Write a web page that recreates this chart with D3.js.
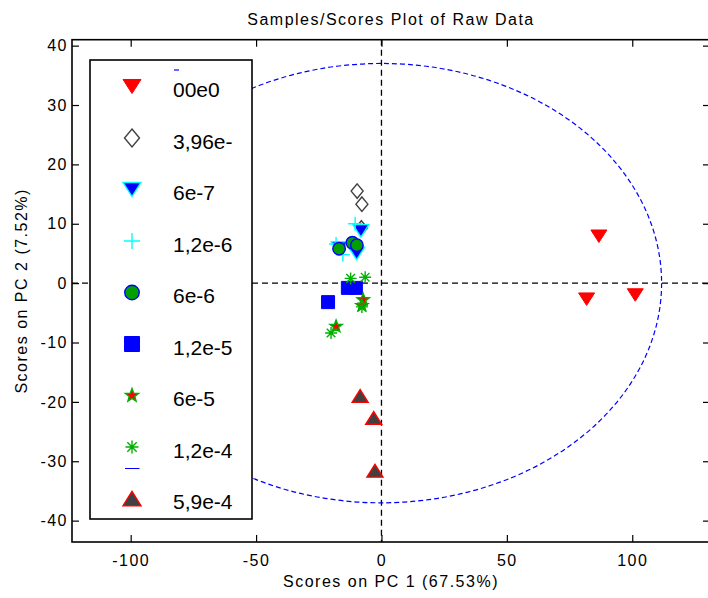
<!DOCTYPE html>
<html>
<head>
<meta charset="utf-8">
<script src="https://cdn.jsdelivr.net/npm/d3@7"></script>
<style>
  html, body { margin: 0; padding: 0; background: #fff; }
  svg { display: block; }
  text { font-family: Arial, "Liberation Sans", Helvetica, sans-serif; fill: #000; }
</style>
</head>
<body>
<svg id="chart" width="708" height="598"></svg>
<script>
// ---- data: PCA scores (PC1, PC2) per sample group ----
const groupLabels = ["00e0", "3,96e-", "6e-7", "1,2e-6", "6e-6", "1,2e-5", "6e-5", "1,2e-4", "5,9e-4"];

const scores_00e0   = [[86.7, 7.9], [81.8, -2.7], [101.2, -2.0]];
const scores_396e   = [[-9.7, 15.5], [-7.8, 13.3], [-8.0, 9.3]];
const scores_6e7    = [[-8.2, 8.8], [-16.8, 5.9], [-9.9, 5.0]];
const scores_12e6   = [[-10.5, 10.0], [-18.1, 6.6], [-15.4, 4.8]];
const scores_6e6    = [[-11.6, 6.8], [-16.9, 5.8], [-9.8, 6.4]];
const scores_12e5   = [[-21.3, -3.2], [-13.4, -0.8], [-10.2, -0.8]];
const scores_6e5    = [[-7.3, -2.8], [-7.8, -3.8], [-18.1, -7.3]];
const scores_12e4   = [[-12.3, 0.8], [-6.5, 1.0], [-20.1, -8.4], [-7.8, -4.0]];
const scores_59e4   = [[-8.5, -19.0], [-3.1, -22.7], [-2.6, -31.6]];

// confidence ellipse (semi-axes in score units, centred on the origin)
const ellipseCenter = [0, 0];
const ellipseRadii = [111.7, 37.0];

const xTicks = [-100, -50, 0, 50, 100];
const yTicks = [40, 30, 20, 10, 0, -10, -20, -30, -40];
const xDomain = [-123.4, 131];
const yDomain = [-43.6, 41];

// ---- layout ----
const svg = d3.select("#chart");
const plot = { left: 72, right: 710, top: 39.7, bottom: 542 };
const x = d3.scaleLinear().domain(xDomain).range([plot.left, plot.right]);
const y = d3.scaleLinear().domain(yDomain).range([plot.bottom, plot.top]);

const axisFont = { size: "16px", spacing: "1.5px" };

// ---- custom marker shapes (size = marker width in px) ----
const triDown = { draw(c, w) { const h = w * 0.78; c.moveTo(-w / 2, -h / 2); c.lineTo(w / 2, -h / 2); c.lineTo(0, h / 2); c.closePath(); } };
const triUp = { draw(c, w) { const h = w * 0.8; c.moveTo(-w / 2, h / 2); c.lineTo(w / 2, h / 2); c.lineTo(0, -h / 2); c.closePath(); } };
const diamond = { draw(c, w) { const h = w * 1.2; c.moveTo(0, -h / 2); c.lineTo(w / 2, 0); c.lineTo(0, h / 2); c.lineTo(-w / 2, 0); c.closePath(); } };
const plus = { draw(c, w) { c.moveTo(-w / 2, 0); c.lineTo(w / 2, 0); c.moveTo(0, -w / 2); c.lineTo(0, w / 2); } };
const circle = { draw(c, w) { c.moveTo(w / 2, 0); c.arc(0, 0, w / 2, 0, 2 * Math.PI); c.closePath(); } };
const square = { draw(c, w) { c.rect(-w / 2, -w / 2, w, w); } };
const star = { draw(c, w) {
  const R = w / 2, r = R * 0.42;
  for (let i = 0; i < 10; i++) {
    const a = -Math.PI / 2 + i * Math.PI / 5, rad = i % 2 ? r : R;
    const px = rad * Math.cos(a), py = rad * Math.sin(a);
    if (i === 0) c.moveTo(px, py); else c.lineTo(px, py);
  }
  c.closePath();
} };
const asterisk = { draw(c, w) {
  const R = w / 2, d = R * 0.72;
  c.moveTo(-R, 0); c.lineTo(R, 0);
  c.moveTo(0, -R); c.lineTo(0, R);
  c.moveTo(-d, -d); c.lineTo(d, d);
  c.moveTo(-d, d); c.lineTo(d, -d);
} };

// marker style per group
const groupStyles = [
  { data: scores_00e0, type: triDown,  size: 16,   legendSize: 18, fill: "#ff0000", stroke: "#ff0000", sw: 1 },
  { data: scores_396e, type: diamond,  size: 12,   legendSize: 15, fill: "none",    stroke: "#404040", sw: 1.4 },
  { data: scores_6e7,  type: triDown,  size: 16,   legendSize: 18, fill: "#0000ff", stroke: "#00ffff", sw: 1.4 },
  { data: scores_12e6, type: plus,     size: 14,   legendSize: 16, fill: "none",    stroke: "#00ffff", sw: 1.4 },
  { data: scores_6e6,  type: circle,   size: 12.5, legendSize: 14.5, fill: "#00a000", stroke: "#0000ff", sw: 1.4 },
  { data: scores_12e5, type: square,   size: 13,   legendSize: 15, fill: "#0000ff", stroke: "#0000ff", sw: 1 },
  { data: scores_6e5,  type: star,     size: 13,   legendSize: 14, fill: "#ff0000", stroke: "#00b000", sw: 1.4 },
  { data: scores_12e4, type: asterisk, size: 12,   legendSize: 13, fill: "none",    stroke: "#00b000", sw: 1.4 },
  { data: scores_59e4, type: triUp,    size: 16,   legendSize: 18, fill: "#404040", stroke: "#ff0000", sw: 1.4 }
];

// ---- reference lines and ellipse ----
const guides = svg.append("g");
guides.append("line")
  .attr("x1", x(0)).attr("x2", x(0)).attr("y1", plot.top).attr("y2", plot.bottom)
  .attr("stroke", "#000").attr("stroke-width", 1.3).attr("stroke-dasharray", "6,4");
guides.append("line")
  .attr("x1", plot.left).attr("x2", plot.right).attr("y1", y(0)).attr("y2", y(0))
  .attr("stroke", "#000").attr("stroke-width", 1.3).attr("stroke-dasharray", "6,4");
guides.append("ellipse")
  .attr("cx", x(ellipseCenter[0])).attr("cy", y(ellipseCenter[1]))
  .attr("rx", x(ellipseRadii[0]) - x(0)).attr("ry", y(0) - y(ellipseRadii[1]))
  .attr("fill", "none").attr("stroke", "#0000ff").attr("stroke-width", 1.2)
  .attr("stroke-dasharray", "5,3");

// ---- data points ----
const pts = svg.append("g");
groupStyles.forEach(g => {
  const sym = d3.symbol().type(g.type).size(g.size);
  pts.append("g").selectAll("path").data(g.data).join("path")
    .attr("d", sym)
    .attr("transform", d => `translate(${x(d[0])},${y(d[1])})`)
    .attr("fill", g.fill).attr("stroke", g.stroke).attr("stroke-width", g.sw);
});

// ---- axes (ticks inside on all four sides) ----
const tick = 7;
const styleAxis = sel => {
  sel.select(".domain").remove();
  sel.selectAll("line").attr("stroke", "#000").attr("stroke-width", 1.2);
  sel.selectAll("text").attr("font-size", axisFont.size).style("letter-spacing", axisFont.spacing)
    .attr("fill", "#000").attr("font-family", "Arial, 'Liberation Sans', sans-serif");
};
svg.append("g").attr("transform", `translate(0,${plot.bottom})`)
  .call(d3.axisBottom(x).tickValues(xTicks).tickSizeInner(-tick).tickSizeOuter(0).tickPadding(12.5).tickFormat(d3.format("d")))
  .call(styleAxis);
svg.append("g").attr("transform", `translate(0,${plot.top})`)
  .call(d3.axisTop(x).tickValues(xTicks).tickSizeInner(-tick).tickSizeOuter(0).tickFormat(""))
  .call(styleAxis);
svg.append("g").attr("transform", `translate(${plot.left},0)`)
  .call(d3.axisLeft(y).tickValues(yTicks).tickSizeInner(-tick).tickSizeOuter(0).tickPadding(4).tickFormat(d3.format("d")))
  .call(styleAxis);
svg.append("g").attr("transform", `translate(${plot.right},0)`)
  .call(d3.axisRight(y).tickValues(yTicks).tickSizeInner(-tick).tickSizeOuter(0).tickFormat(""))
  .call(styleAxis);

// hyphen in tick labels drawn as a plain minus sign
svg.selectAll(".tick text").text(function () { return this.textContent.replace("\u2212", "-"); });

// plot frame
svg.append("rect")
  .attr("x", plot.left).attr("y", plot.top)
  .attr("width", plot.right - plot.left).attr("height", plot.bottom - plot.top)
  .attr("fill", "none").attr("stroke", "#000").attr("stroke-width", 1.6);

// ---- legend ----
const legend = { x: 90, y: 60, w: 162, h: 459, rowTop: 86.5, rowStep: 51.5, markerX: 132, textX: 173 };
const lg = svg.append("g");
lg.append("rect").attr("x", legend.x).attr("y", legend.y).attr("width", legend.w).attr("height", legend.h)
  .attr("fill", "#fff").attr("stroke", "#000").attr("stroke-width", 1.6);
// small line samples left over inside the legend box
lg.append("line").attr("x1", 174).attr("x2", 179).attr("y1", 70).attr("y2", 70)
  .attr("stroke", "#0000ff").attr("stroke-width", 1.2);
lg.append("line").attr("x1", 125).attr("x2", 139.5).attr("y1", 468.5).attr("y2", 468.5)
  .attr("stroke", "#0000ff").attr("stroke-width", 1);
groupStyles.forEach((g, i) => {
  const cy = legend.rowTop + i * legend.rowStep;
  lg.append("path")
    .attr("d", d3.symbol().type(g.type).size(g.legendSize)())
    .attr("transform", `translate(${legend.markerX},${cy})`)
    .attr("fill", g.fill).attr("stroke", g.stroke).attr("stroke-width", g.sw);
  lg.append("text")
    .attr("x", legend.textX).attr("y", cy + 10.5)
    .attr("font-size", "21px")
    .text(groupLabels[i]);
});

// ---- titles ----
svg.append("text")
  .attr("x", (plot.left + plot.right) / 2).attr("y", 25)
  .attr("text-anchor", "middle").attr("font-size", axisFont.size).style("letter-spacing", axisFont.spacing)
  .text("Samples/Scores Plot of Raw Data");
svg.append("text")
  .attr("x", (plot.left + plot.right) / 2).attr("y", 587)
  .attr("text-anchor", "middle").attr("font-size", axisFont.size).style("letter-spacing", axisFont.spacing)
  .text("Scores on PC 1 (67.53%)");
svg.append("text")
  .attr("transform", `translate(27,${(plot.top + plot.bottom) / 2}) rotate(-90)`)
  .attr("text-anchor", "middle").attr("font-size", axisFont.size).style("letter-spacing", axisFont.spacing)
  .text("Scores on PC 2 (7.52%)");
</script>
</body>
</html>
